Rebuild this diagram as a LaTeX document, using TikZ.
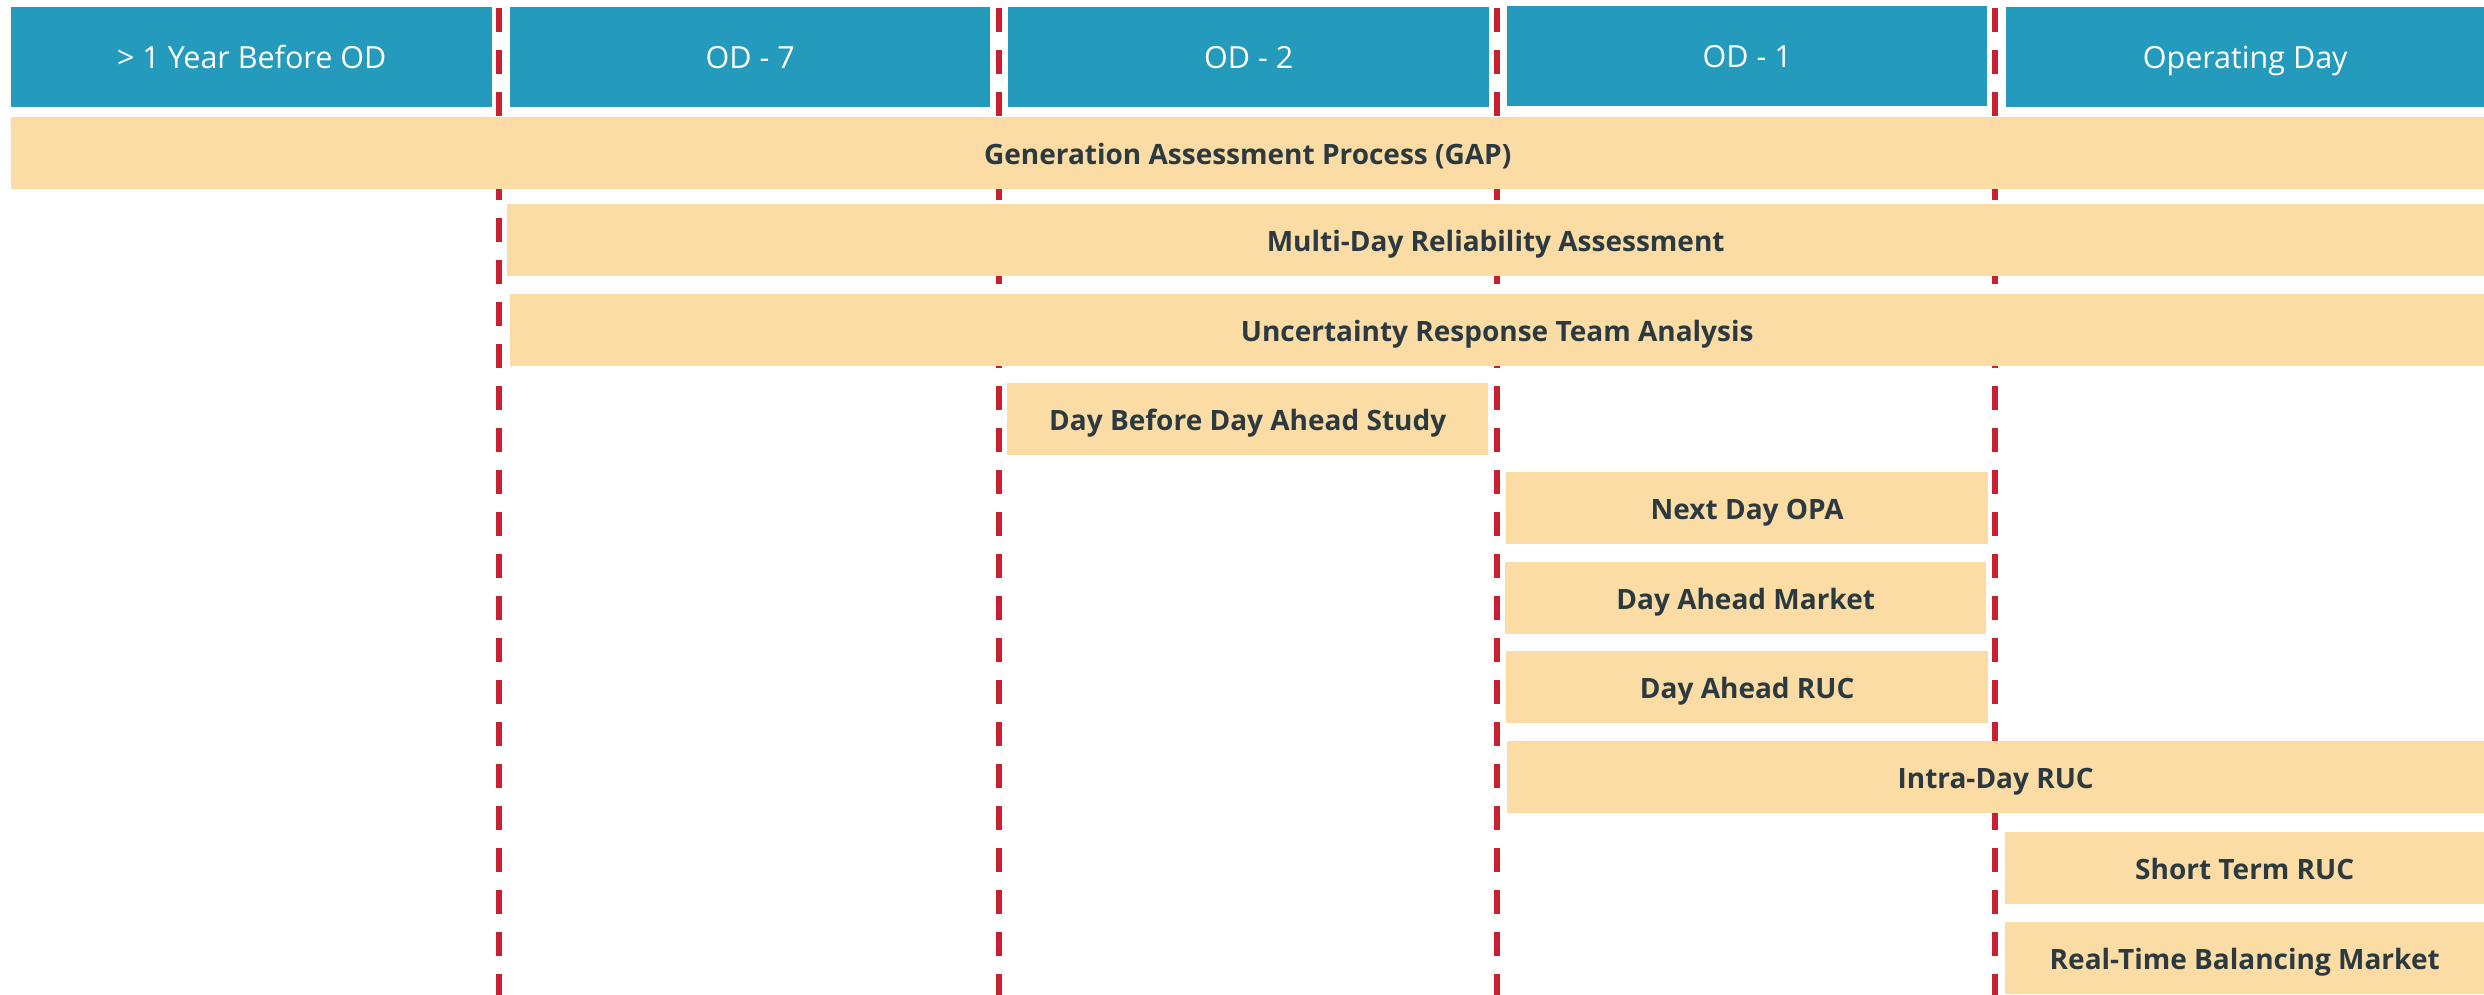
\documentclass[tikz,border=0pt]{standalone}
\usepackage{fontspec}
\setmainfont{Open Sans}
\definecolor{hdrblue}{RGB}{36,154,189}
\definecolor{barfill}{RGB}{252,220,165}
\definecolor{sepred}{RGB}{200,32,48}
\definecolor{bartext}{RGB}{43,57,64}
\tikzset{
  hdr/.style={fill=hdrblue, draw=none, anchor=north west, minimum height=100pt,
    inner sep=0pt, text height=22pt, text depth=0pt, text=white,
    font=\fontsize{30.5}{36}\selectfont},
  bar/.style={fill=barfill, draw=none, anchor=north west, minimum height=72pt,
    inner sep=0pt, text height=22pt, text depth=0pt, text=bartext,
    font=\fontsize{28}{34}\selectfont\bfseries},
  sepline/.style={draw=sepred, line width=6pt, dash pattern=on 24pt off 18pt}
}
\begin{document}
\begin{tikzpicture}[x=1pt,y=-1pt]
\useasboundingbox (0,0) rectangle (2484,995);
\fill[white] (0,0) rectangle (2484,995);

% day separators, behind the bars
\foreach \n/\x in {a/499,b/999,c/1497,d/1995}{
  \coordinate (top\n) at (\x,8);
  \coordinate (bot\n) at (\x,995);
  \draw[sepline] (top\n) -- (bot\n);
}

% timeline headers
\node[hdr, minimum width=481pt] (h1) at (11,7) {> 1 Year Before OD};
\node[hdr, minimum width=480pt] (h2) at (510,7) {OD - 7};
\node[hdr, minimum width=481pt] (h3) at (1008,7) {OD - 2};
\node[hdr, minimum width=480pt] (h4) at (1507,6) {OD - 1};
\node[hdr, minimum width=478pt] (h5) at (2006,7) {Operating Day};

% processes
\node[bar, minimum width=2473pt] (gap)  at (11,117)  {Generation Assessment Process (GAP)};
\node[bar, minimum width=1977pt] (mdra) at (507,204) {Multi-Day Reliability Assessment};
\node[bar, minimum width=1974pt] (urta) at (510,294) {Uncertainty Response Team Analysis};
\node[bar, minimum width=481pt]  (dbda) at (1007,383) {Day Before Day Ahead Study};
\node[bar, minimum width=482pt]  (opa)  at (1506,472) {Next Day OPA};
\node[bar, minimum width=481pt]  (dam)  at (1505,562) {Day Ahead Market};
\node[bar, minimum width=482pt]  (daruc) at (1506,651) {Day Ahead RUC};
\node[bar, minimum width=977pt]  (idruc) at (1507,741) {Intra-Day RUC};
\node[bar, minimum width=479pt]  (struc) at (2005,832) {Short Term RUC};
\node[bar, minimum width=479pt]  (rtbm)  at (2005,922) {Real-Time Balancing Market};
\end{tikzpicture}
\end{document}
